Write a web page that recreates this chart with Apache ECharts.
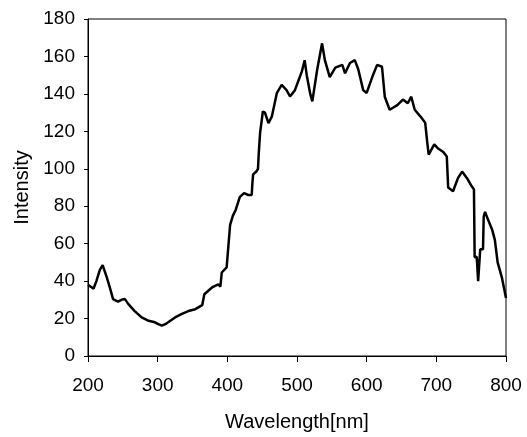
<!DOCTYPE html>
<html>
<head>
<meta charset="utf-8">
<script src="https://cdn.jsdelivr.net/npm/echarts@6/dist/echarts.min.js"></script>
<style>
  html, body { margin: 0; padding: 0; background: #fff; }
  #chart { width: 527px; height: 437px; }
</style>
</head>
<body>
<div id="chart"></div>
<script>
// 波长 (nm)
var wavelength = [
  200, 204, 208, 212, 217, 221, 223, 227, 232, 236, 243, 248, 253, 258, 267, 277, 287, 296, 301, 306,
  311, 315, 325, 334, 344, 354, 364, 367, 378, 387, 390, 392, 399, 401, 402, 404, 408, 412, 418, 424,
  430, 435, 436, 437, 442, 444, 445, 447, 451, 454, 459, 464, 471, 478, 485, 490, 497, 502, 507, 511,
  514, 519, 522, 529, 536, 540, 547, 555, 565, 569, 576, 583, 588, 595, 600, 608, 615, 622, 626, 633,
  644, 652, 659, 664, 669, 677, 684, 687, 689, 697, 702, 710, 715, 717, 724, 731, 737, 744, 751, 754,
  755, 758, 760, 763, 767, 768, 770, 774, 780, 784, 788, 794, 800
]
// 强度
var intensity = [
  38, 37, 36, 40, 46, 48.5, 48, 42, 35.7, 30.4, 29, 30, 30.4, 27.7, 24, 20.6, 18.8, 18, 17, 16.2,
  17, 18, 20.6, 22.4, 24, 25, 27.2, 33, 36.6, 38.3, 37, 44.6, 47.3, 48, 61, 70, 75, 78, 85, 87,
  86, 86, 92.5, 97, 98.7, 100, 107.6, 119, 130.6, 130, 124.4, 128, 140.4, 144.8, 142, 138.6, 142, 147, 152, 158,
  150, 140, 136, 153, 167, 158, 149, 154, 155.5, 151, 156.5, 158, 153, 142, 140.5, 149, 155.5, 154.5, 138.5, 131.5,
  134, 137, 135, 138.5, 131.5, 128, 124.6, 114, 107.6, 113, 111, 109, 106.5, 90, 88, 95, 98.5, 95, 90.5, 89,
  52.7, 53, 40, 57, 57, 74.5, 77, 73, 67.6, 62, 50, 42, 31
]
// 坐标轴刻度
var xTicks = { min: 200, max: 800, interval: 100 }
var yTicks = { min: 0, max: 180, interval: 20 }

var font = 'Liberation Sans, Arial, sans-serif'

var option = {
  animation: false,
  grid: {
    left: 88,
    right: 21,
    top: 19,
    bottom: 80,
    show: true,
    borderColor: '#000',
    borderWidth: 1
  },
  // x轴
  xAxis: {
    type: 'value',
    min: xTicks.min,
    max: xTicks.max,
    interval: xTicks.interval,
    name: 'Wavelength[nm]',
    nameLocation: 'middle',
    nameGap: 56,
    nameTextStyle: { color: '#000', fontSize: 20, fontFamily: font },
    axisLine: { lineStyle: { color: '#000', width: 1 } },
    axisTick: { length: 6, lineStyle: { color: '#000' } },
    axisLabel: { color: '#000', fontSize: 19, fontFamily: font, margin: 20 },
    splitLine: { show: false }
  },
  // y轴
  yAxis: {
    type: 'value',
    min: yTicks.min,
    max: yTicks.max,
    interval: yTicks.interval,
    name: 'Intensity',
    nameLocation: 'middle',
    nameGap: 50,
    nameTextStyle: { color: '#000', fontSize: 20, fontFamily: font },
    axisLine: { lineStyle: { color: '#000', width: 1 } },
    axisTick: { length: 4, lineStyle: { color: '#000' } },
    axisLabel: { color: '#000', fontSize: 19, fontFamily: font, margin: 13 },
    splitLine: { show: false }
  },
  series: [
    {
      type: 'line',
      data: wavelength.map(function (w, i) { return [w, intensity[i]] }),
      showSymbol: false,
      lineStyle: { color: '#000', width: 2.5 }
    }
  ]
}

var chart = echarts.init(document.getElementById('chart'))
chart.setOption(option)
</script>
</body>
</html>
